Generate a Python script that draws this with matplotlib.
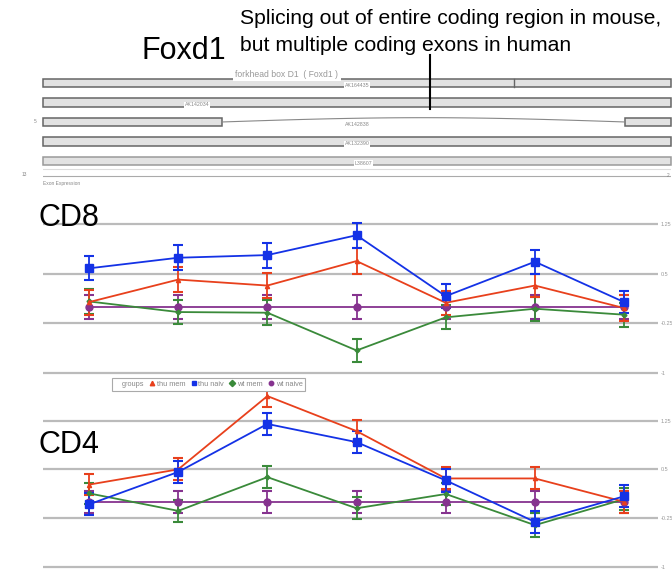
import matplotlib.pyplot as plt
import numpy as np
from matplotlib.lines import Line2D

plt.rcParams['font.family'] = ['Liberation Sans', 'DejaVu Sans']

W, H = 672, 569

# transcripts of the Foxd1 locus, exon spans as fraction of the locus
transcripts = ["AK164435", "AK142034", "AK142838", "AK132390", "L38607"]
exon_spans = [[(0.0, 1.0)], [(0.0, 1.0)], [(0.0, 0.285), (0.927, 1.0)],
              [(0.0, 1.0)], [(0.0, 1.0)]]
label_x = [0.5, 0.245, 0.5, 0.5, 0.51]

# exon expression per probe set (7 probe sets), relative to wt naive
probes = np.arange(7)
groups = ["thu mem", "thu naiv", "wt mem", "wt naive"]
cd8_thu_mem = [0.07, 0.41, 0.32, 0.69, 0.06, 0.32, -0.02]
cd8_thu_naiv = [0.58, 0.74, 0.78, 1.08, 0.16, 0.68, 0.07]
cd8_wt_mem = [0.08, -0.08, -0.09, -0.66, -0.16, -0.03, -0.12]
cd8_wt_naive = [0.0, 0.0, 0.0, 0.0, 0.0, 0.0, 0.0]
cd8_err = [[0.19, 0.19, 0.19, 0.19, 0.18, 0.18, 0.19],
           [0.18, 0.19, 0.19, 0.19, 0.18, 0.18, 0.17],
           [0.19, 0.18, 0.19, 0.18, 0.18, 0.18, 0.18],
           [0.18, 0.18, 0.18, 0.18, 0.18, 0.18, 0.18]]

cd4_thu_mem = [0.265, 0.50, 1.63, 1.09, 0.36, 0.36, 0.0]
cd4_thu_naiv = [-0.04, 0.46, 1.20, 0.92, 0.33, -0.31, 0.085]
cd4_wt_mem = [0.13, -0.14, 0.38, -0.10, 0.12, -0.36, 0.04]
cd4_wt_naive = [0.0, 0.0, 0.0, 0.0, 0.0, 0.0, 0.0]
cd4_err = [[0.16, 0.17, 0.17, 0.17, 0.17, 0.17, 0.17],
           [0.17, 0.17, 0.17, 0.17, 0.18, 0.17, 0.17],
           [0.16, 0.17, 0.17, 0.17, 0.17, 0.18, 0.17],
           [0.17, 0.17, 0.17, 0.17, 0.17, 0.17, 0.17]]

y_ticks = [1.25, 0.5, -0.25, -1]
y_ticklabels = ["1.25", "0.5", "-0.25", "-1"]

colors = ["#e8401c", "#1432e6", "#3a8a3a", "#86338f"]
markers = ["^", "s", "D", "o"]
msizes = [3, 6, 2.5, 5]


def px_axes(x0, y0, x1, y1):
    return fig.add_axes([x0 / W, 1 - y1 / H, (x1 - x0) / W, (y1 - y0) / H])


fig = plt.figure(figsize=(W / 100, H / 100), dpi=100)

fig.text(240 / W, 1 - 24 / H, "Splicing out of entire coding region in mouse,",
         fontsize=15.2, va='baseline')
fig.text(240 / W, 1 - 51 / H, "but multiple coding exons in human",
         fontsize=15.2, va='baseline')
fig.text(142 / W, 1 - 59 / H, "Foxd1", fontsize=22, va='baseline')

# gene track
gt = px_axes(43, 60, 671, 190)
gt.set_xlim(0, 1)
gt.set_ylim(5.49, -1.18)
gt.axis('off')
for row, (name, spans) in enumerate(zip(transcripts, exon_spans)):
    edge = '#9a9a9a' if row == 4 else '#666666'
    for start, end in spans:
        gt.barh(row, end - start, left=start, height=0.42, color='#e2e2e2',
                edgecolor=edge, lw=1.1, clip_on=False)
    if len(spans) > 1:
        t = np.linspace(0, 1, 50)
        xs = spans[0][1] + (spans[1][0] - spans[0][1]) * t
        gt.plot(xs, row - 0.22 * np.sin(np.pi * t), color='#888888', lw=0.8)
    gt.text(label_x[row], row + 0.12, name, fontsize=3.8, color='#888888',
            ha='center', va='center',
            bbox=dict(boxstyle='square,pad=0.1', fc='white', ec='none'))
gt.plot([0.75, 0.75], [-0.2, 0.2], color='#666666', lw=1)
gt.text(0.388, -0.45, "forkhead box D1  ( Foxd1 )", fontsize=6.2,
        color='#999999', ha='center', va='center',
        bbox=dict(boxstyle='square,pad=0.3', fc='white', ec='none'))
gt.text(-0.01, 2.0, "5", fontsize=3.5, color='#888888', ha='right', va='center')
gt.axhline(4.41, color='#dddddd', lw=0.8)
gt.axhline(4.77, color='#aaaaaa', lw=0.8)
gt.text(-0.025, 4.7, "13", fontsize=3.5, color='#888888', ha='right', va='center')
gt.text(0.998, 4.77, "2", fontsize=3.5, color='#888888', ha='right', va='center')
gt.text(0.0, 5.15, "Exon Expression", fontsize=3.5, color='#888888',
        ha='left', va='center')

fig.add_artist(Line2D([430 / W, 430 / W], [1 - 55 / H, 1 - 109 / H],
                      color='black', lw=1.5))


def draw_panel(ax, series, errors, ylim):
    ax.set_xlim(-0.516, 6.38)
    ax.set_ylim(ylim)
    for s in ax.spines.values():
        s.set_visible(False)
    ax.set_xticks([])
    ax.yaxis.tick_right()
    ax.set_yticks(y_ticks)
    ax.set_yticklabels(y_ticklabels, fontsize=4, color='#999999')
    ax.tick_params(length=0, pad=2)
    ax.grid(axis='y', color='#bbbbbb', lw=1.6)
    ax.set_axisbelow(True)
    for i in [3, 2, 0, 1]:
        ax.errorbar(probes, series[i], yerr=errors[i], color=colors[i],
                    marker=markers[i], ms=msizes[i], lw=1.3, elinewidth=1.3,
                    capsize=3.5, capthick=1.5, clip_on=False)


ax8 = px_axes(43, 207.4, 658, 379.6)
draw_panel(ax8, [cd8_thu_mem, cd8_thu_naiv, cd8_wt_mem, cd8_wt_naive],
           cd8_err, (-1.1, 1.5))
fig.text(39 / W, 1 - 226 / H, "CD8", fontsize=22, va='baseline')

ax4 = px_axes(43, 381.8, 658, 568.6)
draw_panel(ax4, [cd4_thu_mem, cd4_thu_naiv, cd4_wt_mem, cd4_wt_naive],
           cd4_err, (-1.03, 1.85))
fig.text(38 / W, 1 - 453 / H, "CD4", fontsize=22, va='baseline')

handles = [Line2D([], [], ls='none')]
handles += [Line2D([], [], ls='none', marker=markers[i], color=colors[i], ms=3.2)
            for i in range(4)]
leg = fig.legend(handles, ["groups"] + groups, ncol=5, loc='upper left',
                 bbox_to_anchor=(108 / W, 1 - 374 / H), fontsize=5.3,
                 frameon=True, fancybox=False, edgecolor='#aaaaaa',
                 borderpad=0.4, handlelength=0.6, handletextpad=0.35,
                 columnspacing=0.8, labelcolor='#888888', framealpha=1)
leg.get_frame().set_linewidth(0.8)

fig.savefig("out.png", dpi=100)
